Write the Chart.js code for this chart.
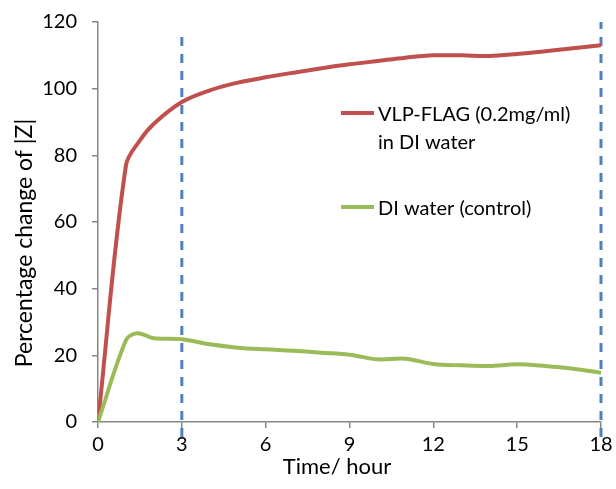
<!DOCTYPE html>
<html>
<head>
<meta charset="utf-8">
<script src="https://cdn.jsdelivr.net/npm/chart.js@4.4.0/dist/chart.umd.min.js"></script>
<style>
  html, body { margin: 0; padding: 0; background: #fff; }
  #wrap { width: 616px; height: 489px; }
</style>
</head>
<body>
<div id="wrap"><canvas id="myChart"></canvas></div>
<script>
// values
const vlpHours = [0, 1, 1.5, 2, 3, 4, 5, 6, 7, 8, 9, 10, 11, 12, 13, 14, 15, 16, 17, 18]
const vlpValues = [0, 77, 84.5, 89.5, 96, 99.5, 101.8, 103.4, 104.8, 106.1, 107.3, 108.3, 109.3, 110, 110, 109.8, 110.4, 111.2, 112.1, 113]
const controlHours = [0, 1, 1.35, 1.7, 2, 3, 4, 5, 6, 7, 8, 9, 10, 11, 12, 13, 14, 15, 16, 17, 18]
const controlValues = [0, 24.5, 26.6, 26, 25.1, 24.8, 23.3, 22.3, 21.8, 21.4, 20.8, 20.2, 18.8, 19, 17.4, 17, 16.8, 17.3, 16.8, 16, 14.8]
const markerHours = [3, 18]
const markerTops = [116, 120]
const markerBottom = -4.5
const seriesLabels = [['VLP-FLAG (0.2mg/ml)', 'in DI water'], ['DI water (control)']]
const xTitle = 'Time/ hour'
const yTitle = 'Percentage change of |Z|'

const FONT = 'Lato'
const AXIS = '#868686'
const colors = ['#c0504d', '#9bbb59']

const ctx = document.querySelector('#myChart')

function toPoints(xs, ys) {
    return xs.map((x, i) => ({ x: x, y: ys[i] }))
}

// let layout.padding alone decide where the plot sits
function noScalePadding(scale) {
    scale.paddingTop = 0
    scale.paddingBottom = 0
    scale.paddingLeft = 0
    scale.paddingRight = 0
}

const markerSets = markerHours.map((h, i) => ({
    label: 'marker',
    data: [{ x: h, y: markerBottom }, { x: h, y: markerTops[i] }],
    borderColor: '#4f81bd',
    borderWidth: 3,
    borderDash: [9, 8],
    pointRadius: 0,
    clip: false,
    tension: 0
}))

// draws the legend inside the plot and the two axis titles
const extras = {
    id: 'extras',
    afterDraw(chart) {
        const c = chart.ctx
        c.save()
        c.fillStyle = '#000'
        c.textBaseline = 'alphabetic'

        c.font = `20px ${FONT}`
        const legendRows = [121, 215]
        seriesLabels.forEach((lines, i) => {
            const y = legendRows[i]
            c.strokeStyle = colors[i]
            c.lineWidth = 4
            c.beginPath()
            c.moveTo(341, y - 8)
            c.lineTo(374, y - 8)
            c.stroke()
            c.textAlign = 'left'
            lines.forEach((t, j) => c.fillText(t, 378, y + j * 28))
        })

        c.font = `22px ${FONT}`
        c.textAlign = 'center'
        c.fillText(xTitle, 337, 474)

        c.font = `23px ${FONT}`
        c.translate(32, 243)
        c.rotate(-Math.PI / 2)
        c.fillText(yTitle, 0, 0)
        c.restore()
    }
}

function CreateLineChart() {
    new Chart(ctx, {
        type: 'line',
        data: {
            datasets: [
                {
                    label: seriesLabels[1].join(' '),
                    data: toPoints(controlHours, controlValues),
                    borderColor: colors[1],
                    borderWidth: 4,
                    pointRadius: 0,
                    tension: 0.35
                },
                {
                    label: seriesLabels[0].join(' '),
                    data: toPoints(vlpHours, vlpValues),
                    borderColor: colors[0],
                    borderWidth: 4,
                    pointRadius: 0,
                    tension: 0.35
                },
                ...markerSets
            ]
        },
        options: {
            responsive: true,
            maintainAspectRatio: false,
            animation: false,
            layout: { padding: { top: 22, right: 15, left: 0, bottom: 0 } },
            plugins: {
                legend: { display: false },
                tooltip: { enabled: false }
            },
            scales: {
                x: {
                    type: 'linear',
                    min: 0,
                    max: 18,
                    border: { color: AXIS, width: 1.5 },
                    grid: { drawOnChartArea: false, drawTicks: true, tickLength: 6, color: AXIS, lineWidth: 1.5 },
                    ticks: { stepSize: 3, color: '#000', padding: 5, maxRotation: 0, font: { family: FONT, size: 20 } },
                    afterFit(scale) {
                        scale.height = 67
                        noScalePadding(scale)
                    }
                },
                y: {
                    min: 0,
                    max: 120,
                    border: { color: AXIS, width: 1.5 },
                    grid: { drawOnChartArea: false, drawTicks: true, tickLength: 6, color: AXIS, lineWidth: 1.5 },
                    ticks: { stepSize: 20, color: '#000', padding: 15, font: { family: FONT, size: 20 } },
                    afterFit(scale) {
                        scale.width = 98
                        noScalePadding(scale)
                    }
                }
            }
        },
        plugins: [extras]
    })
}

document.fonts.load(`20px ${FONT}`).then(CreateLineChart, CreateLineChart)
</script>
</body>
</html>
